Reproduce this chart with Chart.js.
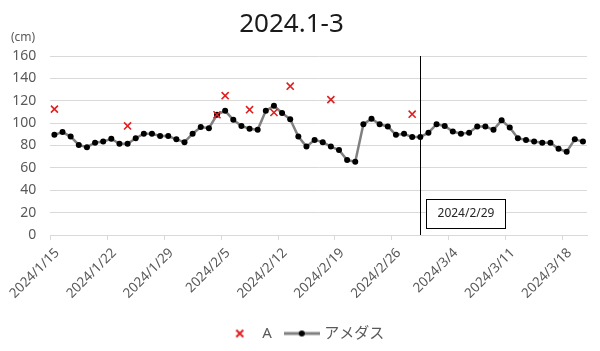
<!DOCTYPE html>
<html>
<head>
<meta charset="utf-8">
<script src="https://cdn.jsdelivr.net/npm/chart.js@4/dist/chart.umd.min.js"></script>
<style>
html,body{margin:0;padding:0;background:#fff;}
#wrap{width:600px;height:351px;}
</style>
</head>
<body>
<div id="wrap"><canvas id="c" width="600" height="351"></canvas></div>
<script>
// 日付（1日1点）
const dates = [
  '2024/1/15','2024/1/16','2024/1/17','2024/1/18','2024/1/19','2024/1/20','2024/1/21',
  '2024/1/22','2024/1/23','2024/1/24','2024/1/25','2024/1/26','2024/1/27','2024/1/28',
  '2024/1/29','2024/1/30','2024/1/31','2024/2/1','2024/2/2','2024/2/3','2024/2/4',
  '2024/2/5','2024/2/6','2024/2/7','2024/2/8','2024/2/9','2024/2/10','2024/2/11',
  '2024/2/12','2024/2/13','2024/2/14','2024/2/15','2024/2/16','2024/2/17','2024/2/18',
  '2024/2/19','2024/2/20','2024/2/21','2024/2/22','2024/2/23','2024/2/24','2024/2/25',
  '2024/2/26','2024/2/27','2024/2/28','2024/2/29','2024/3/1','2024/3/2','2024/3/3',
  '2024/3/4','2024/3/5','2024/3/6','2024/3/7','2024/3/8','2024/3/9','2024/3/10',
  '2024/3/11','2024/3/12','2024/3/13','2024/3/14','2024/3/15','2024/3/16','2024/3/17',
  '2024/3/18','2024/3/19','2024/3/20'
];
// アメダス積雪深 (cm)
const amedas = [
  89.5,92,88,80.5,78.5,82.5,83.5,
  86,81.5,81.5,86.5,90.5,90.5,88.5,
  88.5,85.5,83,90.5,96.5,95.5,107.5,
  111,103,97.5,95,94,111,115.5,
  109,103.5,88,79,85,83,79,
  76,67,65.5,99,104,99,97,
  89.5,90.5,87.5,87.5,91.5,99,97.5,
  92.5,90.5,91.5,97,97,94,102.5,
  96,86.5,85,83.5,82.5,82.5,77,
  74.5,85.5,83.5
];
// 地点A（実測）
const aDates = ['2024/1/15','2024/1/24','2024/2/4','2024/2/5','2024/2/8','2024/2/11','2024/2/13','2024/2/18','2024/2/28'];
const aValues = [112.5,97.5,107.5,124.5,112,109.5,133,121,108];
const yTicks = [0,20,40,60,80,100,120,140,160];
const markerDate = '2024/2/29';
const titleText = '2024.1-3';

const FONT = "'Noto Sans','Noto Sans CJK JP',sans-serif";
const GRID = '#d9d9d9';
const TXT = '#595959';
const PLOT_BOTTOM = 235;   // プロット領域の下端
const LEGEND_SHIFT = 6;    // 凡例を少し右へ

// 凡例アイコン
function icon(kind){
  const c = document.createElement('canvas');
  c.width = 36; c.height = 12;
  const g = c.getContext('2d');
  if(kind==='x'){
    g.strokeStyle = '#e02020'; g.lineWidth = 2;
    g.beginPath(); g.moveTo(14.5,2.5); g.lineTo(21.5,9.5); g.moveTo(21.5,2.5); g.lineTo(14.5,9.5); g.stroke();
  }else{
    g.strokeStyle = '#808080'; g.lineWidth = 3;
    g.beginPath(); g.moveTo(0,6); g.lineTo(36,6); g.stroke();
    g.fillStyle = '#000'; g.beginPath(); g.arc(18,6,3,0,Math.PI*2); g.fill();
  }
  return c;
}
const icons = [icon('x'), icon('line')];

const idx = d => dates.indexOf(d) + 0.5;

const extras = {
  id:'extras',
  afterLayout(chart){
    chart.legend.left += LEGEND_SHIFT;
    chart.legend.right += LEGEND_SHIFT;
  },
  beforeDatasetsDraw(chart){
    const {ctx, chartArea:a, scales:{x,y}} = chart;
    const lx = Math.round(x.getPixelForValue(idx(markerDate))) + 0.5;
    ctx.save();
    ctx.strokeStyle = '#000'; ctx.lineWidth = 1;
    ctx.beginPath(); ctx.moveTo(lx, a.top); ctx.lineTo(lx, a.bottom); ctx.stroke();
    // 日付ラベル
    const bx = lx + 6, bw = 79;
    const top = Math.round(y.getPixelForValue(32)) + 0.5, bot = Math.round(y.getPixelForValue(6)) + 0.5;
    ctx.fillStyle = '#fff'; ctx.fillRect(bx, top, bw, bot-top);
    ctx.strokeRect(bx, top, bw, bot-top);
    ctx.fillStyle = '#262626'; ctx.font = '12px ' + FONT;
    ctx.textAlign = 'center'; ctx.textBaseline = 'middle';
    ctx.fillText(markerDate, bx + bw/2, (top+bot)/2);
    // タイトル・単位
    ctx.fillStyle = '#1a1a1a'; ctx.font = '26px ' + FONT;
    ctx.fillText(titleText, 291.5, 24.5);
    ctx.fillStyle = TXT; ctx.font = '12px ' + FONT;
    ctx.textAlign = 'left';
    ctx.fillText('(cm)', 11, 38);
    ctx.restore();
  }
};

new Chart(document.getElementById('c').getContext('2d'), {
  type:'line',
  data:{
    datasets:[
      {
        label:'A',
        data:aDates.map((d,i)=>({x:idx(d), y:aValues[i]})),
        showLine:false,
        pointStyle:'crossRot',
        pointRadius:5,
        pointBorderWidth:1.6,
        pointBorderColor:'#e02020',
        pointBackgroundColor:'#e02020'
      },
      {
        label:'アメダス',
        data:amedas.map((v,i)=>({x:i+0.5, y:v})),
        borderColor:'#808080',
        borderWidth:2.5,
        pointRadius:3,
        pointBorderWidth:0,
        pointBackgroundColor:'#000',
        tension:0
      }
    ]
  },
  options:{
    responsive:false,
    animation:false,
    layout:{padding:{left:10, right:13, top:56, bottom:0}},
    plugins:{
      title:{display:false},
      legend:{
        position:'bottom',
        labels:{
          usePointStyle:true, pointStyleWidth:30,
          color:TXT, font:{family:FONT, size:15},
          padding:15,
          generateLabels:(chart)=>chart.data.datasets.map((ds,i)=>({
            text:ds.label, pointStyle:icons[i], datasetIndex:i, hidden:false,
            fontColor:TXT, lineWidth:0, strokeStyle:'rgba(0,0,0,0)', fillStyle:'rgba(0,0,0,0)'
          }))
        }
      },
      tooltip:{enabled:false}
    },
    scales:{
      x:{
        type:'linear', min:0, max:dates.length,
        afterFit:s=>{ s.height = s.chart.height - PLOT_BOTTOM - s.chart.legend.height; },
        grid:{drawOnChartArea:false, drawTicks:true, tickLength:5, color:GRID},
        border:{display:true, color:GRID, width:1},
        ticks:{
          stepSize:7, includeBounds:false, autoSkip:false,
          maxRotation:45, minRotation:45, padding:5, labelOffset:7,
          color:TXT, font:{family:FONT, size:13.5},
          callback:v=>dates[v] || ''
        }
      },
      y:{
        min:0, max:160,
        afterFit:s=>{ s.width = 40; },
        afterBuildTicks:s=>{ s.ticks = yTicks.map(v=>({value:v})); },
        grid:{color:GRID, lineWidth:1, drawTicks:false},
        border:{display:false},
        ticks:{padding:14, color:TXT, font:{family:FONT, size:14}}
      }
    }
  },
  plugins:[extras]
});
</script>
</body>
</html>
